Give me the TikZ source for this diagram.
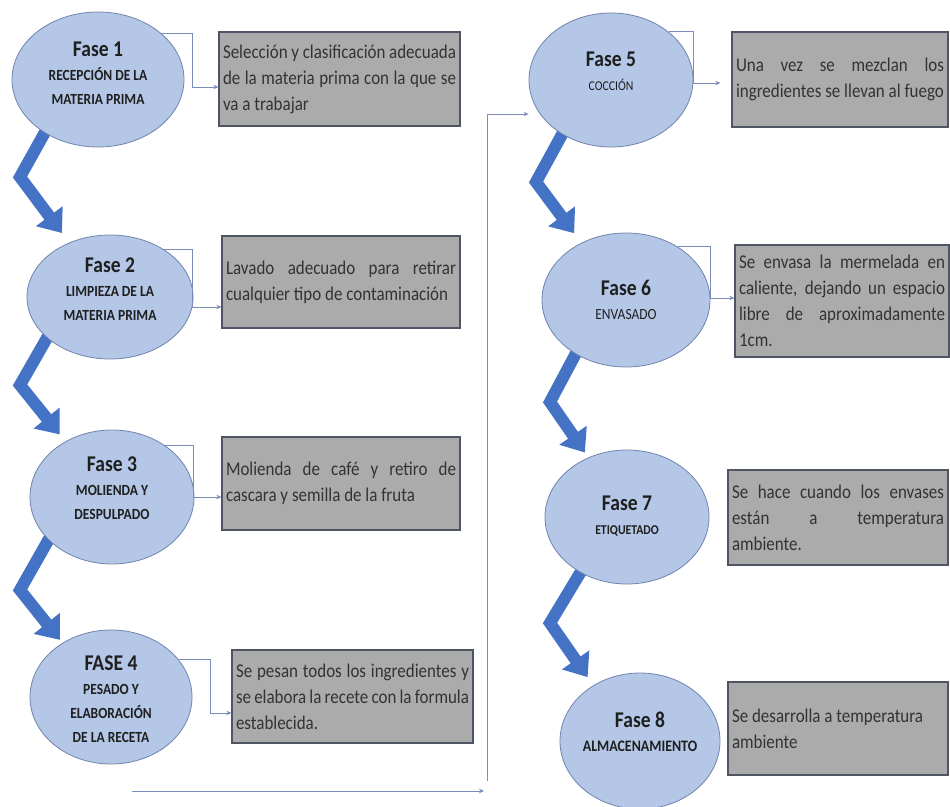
\documentclass[tikz,border=0pt]{standalone}
\usepackage{fontspec}
\setmainfont{Carlito}[FakeStretch=0.87]
\usetikzlibrary{shapes.geometric,arrows.meta,backgrounds}
\definecolor{ellfill}{HTML}{B4C7E7}
\definecolor{elldraw}{HTML}{6F84AE}
\definecolor{boxfill}{HTML}{ABABAB}
\definecolor{boxdraw}{HTML}{4F5563}
\definecolor{boxtext}{HTML}{333333}
\definecolor{conncol}{HTML}{7A8CB8}
\definecolor{chevcol}{HTML}{4472C4}
\newcommand\jst[2]{\makebox[#1][s]{#2}}
\newcommand\jlf[2]{\makebox[#1][l]{#2}}
\newcommand\ttl[1]{{\bfseries\fontsize{22.5}{24}\selectfont #1}}
\begin{document}
\begin{tikzpicture}[x=1pt,y=-1pt,
  phase/.style={ellipse, fill=ellfill, draw=elldraw, line width=0.8pt, inner sep=0pt},
  phtext/.style={align=center, text=black!88, font=\bfseries\fontsize{15.5}{24}\selectfont},
  phtextb/.style={align=center, text=black!88, font=\bfseries\fontsize{#1}{24}\selectfont},
  phtextr/.style={align=center, text=black!88, font=\fontsize{#1}{24}\selectfont},
  descbox/.style={rectangle, fill=boxfill, draw=boxdraw, line width=1.2pt, inner sep=0pt,
    align=left, text=boxtext, font=\fontsize{19.5}{26}\selectfont},
  conn/.style={draw=conncol, line width=0.8pt},
  connarrow/.style={conn, -{Stealth[length=5pt,width=4.5pt]}},
  chev/.style={draw=chevcol, line width=12pt, line join=miter,
    -{Triangle[width=32pt,length=21pt]}}
]
\useasboundingbox (0,0) rectangle (950,806);

% ---------- phases (ellipses) ----------
\node[phase, minimum width=172, minimum height=135,
  label={[phtext, yshift=6pt]center:{\ttl{Fase 1}\\RECEPCIÓN DE LA\\MATERIA PRIMA}}] (e1) at (98,79.5) {};
\node[phase, minimum width=166, minimum height=124,
  label={[phtext, yshift=8pt]center:{\ttl{Fase 2}\\LIMPIEZA DE LA\\MATERIA PRIMA}}] (e2) at (110,297) {};
\node[phase, minimum width=164, minimum height=134,
  label={[phtext, yshift=9pt]center:{\ttl{Fase 3}\\MOLIENDA Y\\DESPULPADO}}] (e3) at (112,497) {};
\node[phase, minimum width=162, minimum height=134,
  label={[phtext, yshift=-2pt]center:{\ttl{FASE 4}\\PESADO Y\\ELABORACIÓN\\DE LA RECETA}}] (e4) at (111,697) {};
\node[phase, minimum width=164, minimum height=134,
  label={[phtextr=13.5, yshift=9pt]center:{\ttl{Fase 5}\\COCCIÓN}}] (e5) at (611,80) {};
\node[phase, minimum width=168, minimum height=134,
  label={[phtextr=15.5, yshift=0pt]center:{\ttl{Fase 6}\\ENVASADO}}] (e6) at (626,300) {};
\node[phase, minimum width=164, minimum height=134,
  label={[phtextb=13.5, yshift=1pt]center:{\ttl{Fase 7}\\ETIQUETADO}}] (e7) at (627,517) {};
\node[phase, minimum width=160, minimum height=136,
  label={[phtextb=16, yshift=9pt]center:{\ttl{Fase 8}\\ALMACENAMIENTO}}] (e8) at (640,741) {};

% ---------- description boxes ----------
\node[descbox, minimum width=241, minimum height=94] (b1) at (339.5,79)
  {\jst{233pt}{Selección y clasificación adecuada}\\\jst{233pt}{de la materia prima con la que se}\\\jlf{233pt}{va a trabajar}};
\node[descbox, minimum width=238, minimum height=92] (b2) at (341,282)
  {\jst{230pt}{Lavado adecuado para retirar}\\\jlf{230pt}{cualquier tipo de contaminación}};
\node[descbox, minimum width=238, minimum height=93] (b3) at (341,483.5)
  {\jst{230pt}{Molienda de café y retiro de}\\\jlf{230pt}{cascara y semilla de la fruta}};
\node[descbox, minimum width=241, minimum height=93] (b4) at (352.5,696.5)
  {\jst{233pt}{Se pesan todos los ingredientes y}\\\jst{233pt}{se elabora la recete con la formula}\\\jlf{233pt}{establecida.}};
\node[descbox, minimum width=216, minimum height=95] (b5) at (840,79.5)
  {\jst{208pt}{Una vez se mezclan los}\\\jlf{208pt}{ingredientes se llevan al fuego}};
\node[descbox, minimum width=214, minimum height=112] (b6) at (842,301)
  {\jst{206pt}{Se envasa la mermelada en}\\\jst{206pt}{caliente, dejando un espacio}\\\jst{206pt}{libre de aproximadamente}\\\jlf{206pt}{1cm.}};
\node[descbox, minimum width=220, minimum height=95] (b7) at (838,517.5)
  {\jst{212pt}{Se hace cuando los envases}\\\jst{212pt}{están a temperatura}\\\jlf{212pt}{ambiente.}};
\node[descbox, minimum width=220, minimum height=93] (b8) at (838,728.5)
  {\jlf{212pt}{Se desarrolla a temperatura}\\\jlf{212pt}{ambiente}};

% ---------- elbow connectors ----------
\coordinate (k1) at (192,87);
\coordinate (k2) at (192,307);
\coordinate (k3) at (193,497);
\coordinate (k4) at (210,713);
\coordinate (k5) at (693,83);
\coordinate (k6) at (710,298);
\draw[connarrow] (e1.36) -| (k1) -- (k1 -| b1.west);
\draw[connarrow] (e2.41) -| (k2) -- (k2 -| b2.west);
\draw[connarrow] (e3.44) -| (k3) -- (k3 -| b3.west);
\draw[connarrow] (e4.29) -| (k4) -- (k4 -| b4.west);
\draw[connarrow, shorten >=11pt] (e5.40) -| (k5) -- (k5 -| b5.west);
\draw[connarrow] (e6.46) -| (k6) -- (k6 -| b6.west);

% ---------- link from column 1 to column 2 ----------
\coordinate (h1) at (132,791);
\coordinate (h2) at (484,791);
\coordinate (v1) at (487,781);
\coordinate (v2) at (487,114);
\draw[connarrow] (h1) -- (h2);
\draw[connarrow] (v1) -- (v2) -- (v2 -| e5.west);

% ---------- chevron arrows ----------
\coordinate (c1) at (20,177);
\coordinate (c2) at (20,385);
\coordinate (c3) at (20,590);
\coordinate (c5) at (536,182);
\coordinate (c6) at (550,402);
\coordinate (c7) at (550,623);
\begin{scope}[on background layer]
\fill[white] (0,0) rectangle (950,806);
\draw[chev, shorten <=-10pt, shorten >=12pt] (e1.225) -- (c1) -- (e2.127);
\draw[chev, shorten <=-10pt, shorten >=9pt] (e2.213) -- (c2) -- (e3.130);
\draw[chev, shorten <=-10pt, shorten >=4pt] (e3.214) -- (c3) -- (e4.132);
\draw[chev, shorten <=-10pt, shorten >=12pt] (e5.228) -- (c5) -- (e6.128);
\draw[chev, shorten <=-10pt, shorten >=6pt] (e6.227) -- (c6) -- (e7.123);
\draw[chev, shorten <=-10pt, shorten >=10pt] (e7.230) -- (c7) -- (e8.130);
\end{scope}
\end{tikzpicture}
\end{document}
